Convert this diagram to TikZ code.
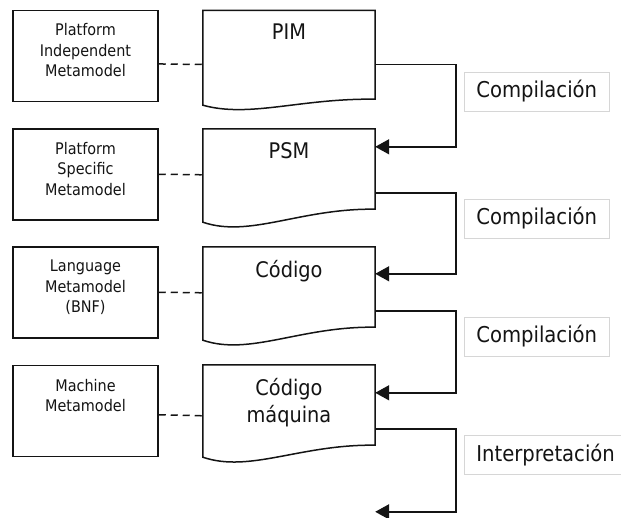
\documentclass[tikz,border=0pt]{standalone}
\usepackage{fontspec}
\setmainfont{DejaVu Sans Condensed}
\usetikzlibrary{calc,arrows.meta}

\definecolor{ink}{HTML}{141414}
\definecolor{labelrule}{HTML}{D6D6D6}

\tikzset{
  metabox/.style={draw=ink, line width=1.5pt, minimum width=145pt, minimum height=91pt,
                  inner sep=0pt},
  metatext/.style={anchor=north, align=center, inner sep=0pt,
                   font=\fontsize{16}{20.5}\selectfont, text=ink},
  docarea/.style={minimum width=172pt, inner sep=0pt},
  doctitle/.style={anchor=north, align=center, inner sep=0pt,
                   font=\fontsize{21.5}{27}\selectfont, text=ink},
  docline/.style={draw=ink, line width=1.5pt, line join=miter},
  tieline/.style={draw=ink, line width=1.5pt, dash pattern=on 7pt off 5pt},
  flow/.style={draw=ink, line width=1.6pt, -{Triangle[length=14pt, width=15pt]}},
  steplabel/.style={draw=labelrule, line width=0.7pt, fill=white, anchor=west,
                    inner xsep=12pt, minimum height=39pt,
                    font=\fontsize{21.8}{26}\selectfont, text=ink}
}

\begin{document}
\begin{tikzpicture}[x=1pt, y=-1pt]
  \useasboundingbox (0,0) rectangle (621,518);

  % metamodel boxes on the left
  \node[metabox] (m1) at (85.5,56.2)  {};
  \node[metabox] (m2) at (85.5,174.5) {};
  \node[metabox] (m3) at (85.5,292.5) {};
  \node[metabox] (m4) at (85.5,411)   {};
  \node[metatext] (m1t) at ($(m1.north)+(0,13.5)$) {Platform\\Independent\\Metamodel};
  \node[metatext] (m2t) at ($(m2.north)+(0,13.5)$) {Platform\\Specific\\Metamodel};
  \node[metatext] (m3t) at ($(m3.north)+(0,13.5)$) {Language\\Metamodel\\(BNF)};
  \node[metatext] (m4t) at ($(m4.north)+(0,14)$) {Machine\\Metamodel};

  % document shapes: straight top and sides, wavy bottom
  \node[docarea, minimum height=88.3pt] (pim) at (289,54.85) {};
  \node[docarea, minimum height=80pt]   (psm) at (289,169)   {};
  \node[docarea, minimum height=80pt]   (cod) at (289,287)   {};
  \node[docarea, minimum height=80pt]   (maq) at (289,405)   {};

  \draw[docline] (pim.north west) -- (pim.north east) -- (pim.south east)
    .. controls +(-75,-1) and +(47,13) .. ($(pim.south west)+(0,6)$) -- cycle;
  \draw[docline] (psm.north west) -- (psm.north east) -- (psm.south east)
    .. controls +(-75,-1) and +(47,16) .. ($(psm.south west)+(0,13)$) -- cycle;
  \draw[docline] (cod.north west) -- (cod.north east) -- (cod.south east)
    .. controls +(-75,-1) and +(47,16) .. ($(cod.south west)+(0,13)$) -- cycle;
  \draw[docline] (maq.north west) -- (maq.north east) -- (maq.south east)
    .. controls +(-75,-1) and +(47,16) .. ($(maq.south west)+(0,12)$) -- cycle;

  \node[doctitle] (pimt) at ($(pim.north)+(0,13.5)$) {PIM};
  \node[doctitle] (psmt) at ($(psm.north)+(0,13.5)$) {PSM};
  \node[doctitle] (codt) at ($(cod.north)+(0,13.5)$) {Código};
  \node[doctitle] (maqt) at ($(maq.north)+(0,13.5)$) {Código\\máquina};

  % dashed ties between metamodels and models
  \draw[tieline] ($(m1.north east)+(0,54)$) -- ($(pim.north west)+(0,54)$);
  \draw[tieline] ($(m2.north east)+(0,46)$) -- ($(psm.north west)+(0,46)$);
  \draw[tieline] ($(m3.north east)+(0,46)$) -- ($(cod.north west)+(0,46)$);
  \draw[tieline] ($(m4.north east)+(0,50)$) -- ($(maq.north west)+(0,51)$);

  % transformation arrows
  \coordinate (out) at ($(maq.north east)+(0,147)$);
  \draw[flow] ($(pim.north east)+(0,54)$) -- ++(81,0) |- ($(psm.north east)+(0,18)$);
  \draw[flow] ($(psm.north east)+(0,64)$) -- ++(81,0) |- ($(cod.north east)+(0,27)$);
  \draw[flow] ($(cod.north east)+(0,64)$) -- ++(81,0) |- ($(maq.north east)+(0,28)$);
  \draw[flow] ($(maq.north east)+(0,64)$) -- ++(81,0) |- (out);

  % transformation labels
  \node[steplabel] (l1) at (464,91.5)  {Compilación};
  \node[steplabel] (l2) at (464,218.5) {Compilación};
  \node[steplabel] (l3) at (464,336.5) {Compilación};
  \node[steplabel] (l4) at (464,455)   {Interpretación};
\end{tikzpicture}
\end{document}
